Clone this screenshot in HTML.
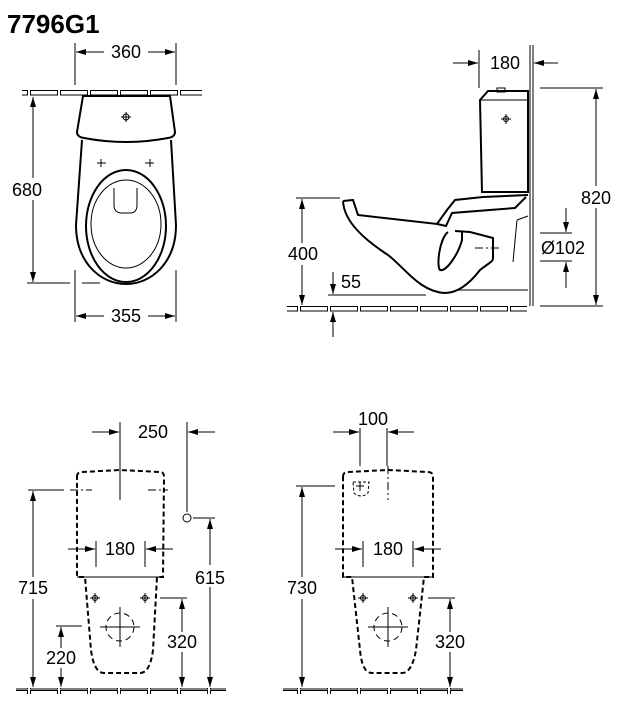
<!DOCTYPE html>
<html><head><meta charset="utf-8"><style>
html,body{margin:0;padding:0;background:#fff;}
svg{display:block;}
text{font-family:"Liberation Sans",Arial,sans-serif;fill:#000;}
.l{stroke:#000;stroke-width:1;fill:none;}
.t{stroke:#000;stroke-width:2;fill:none;}
.d{stroke:#000;stroke-width:2;fill:none;stroke-dasharray:5,3;}
.c{stroke:#000;stroke-width:1;fill:none;stroke-dasharray:8,3,2,3;}
.n{font-size:18px;}
</style></head><body>
<svg width="619" height="701" viewBox="0 0 619 701" xmlns="http://www.w3.org/2000/svg">
<defs>
<marker id="a" viewBox="0 0 10 6" refX="10" refY="3" markerWidth="10" markerHeight="6" orient="auto-start-reverse" markerUnits="userSpaceOnUse"><path d="M0,0 L10,3 L0,6 z" fill="#000"/></marker>
<pattern id="fl" width="30" height="6" patternUnits="userSpaceOnUse"><rect x="0.5" y="0.5" width="27" height="4.5" fill="#fff" stroke="#000" stroke-width="1"/></pattern>
</defs>
<text x="7" y="33" style="font-size:26px;font-weight:bold">7796G1</text>

<line class="l" x1="75" y1="43" x2="75" y2="85"/><line class="l" x1="176" y1="43" x2="176" y2="85"/>
<line class="l" x1="76" y1="52" x2="104" y2="52" marker-start="url(#a)"/>
<line class="l" x1="148" y1="52" x2="175" y2="52" marker-end="url(#a)"/>
<text class="n" x="126" y="58" text-anchor="middle">360</text>
<rect x="22" y="90" width="180" height="6" fill="url(#fl)"/>
<path class="t" d="M83,96 L170,96 L175,132 Q175,137 168,138 Q126,146 84,138 Q77,137 77,132 Z"/>
<path class="t" d="M82,140 L76,225 C76,262 100,284 126,284 C152,284 176,262 176,225 L171,140"/>
<ellipse class="t" cx="126" cy="226" rx="40" ry="56"/>
<ellipse class="l" cx="126" cy="224" rx="35" ry="44"/>
<path class="l" d="M114,188 L114,205 Q114,213 122,213 L130,213 Q137,213 137,205 L137,188"/>
<g class="l"><circle cx="126" cy="117" r="3"/><line x1="121" y1="117" x2="131" y2="117"/><line x1="126" y1="112" x2="126" y2="122"/>
<line x1="97" y1="163" x2="106" y2="163"/><line x1="101" y1="159" x2="101" y2="167"/>
<line x1="145" y1="163" x2="154" y2="163"/><line x1="150" y1="159" x2="150" y2="167"/></g>
<line class="l" x1="33" y1="97" x2="33" y2="282" marker-start="url(#a)" marker-end="url(#a)"/>
<rect x="6" y="178" width="44" height="22" fill="#fff"/>
<text class="n" x="27" y="196" text-anchor="middle">680</text>
<line class="l" x1="27" y1="283" x2="70" y2="283"/><line class="l" x1="82" y1="283" x2="100" y2="283"/>
<line class="l" x1="75" y1="270" x2="75" y2="322"/><line class="l" x1="176" y1="270" x2="176" y2="322"/>
<line class="l" x1="76" y1="316" x2="104" y2="316" marker-start="url(#a)"/>
<line class="l" x1="148" y1="316" x2="175" y2="316" marker-end="url(#a)"/>
<text class="n" x="126" y="322" text-anchor="middle">355</text>

<line class="l" x1="530" y1="45" x2="530" y2="306"/><line class="l" x1="533" y1="45" x2="533" y2="306"/>
<line class="l" x1="479" y1="50" x2="479" y2="88"/>
<line class="l" x1="453" y1="63" x2="478" y2="63" marker-end="url(#a)"/>
<line class="l" x1="558" y1="63" x2="534" y2="63" marker-end="url(#a)"/>
<text class="n" x="505" y="69" text-anchor="middle">180</text>
<path class="t" d="M480,100 L488,91 L528,91 L528,192 L482,192 Z"/>
<line class="l" x1="480" y1="100" x2="528" y2="100"/>
<rect x="497" y="88" width="8" height="4" class="l"/>
<g class="l"><circle cx="506" cy="119" r="2.5"/><line x1="501" y1="119" x2="511" y2="119"/><line x1="506" y1="114" x2="506" y2="124"/></g>
<path class="t" d="M343,201 L353,200 L358,215 L437,224 L447,210 L455,200 L483,197 L528,195"/>
<path class="t" d="M343,201 C344,222 365,240 388,255 C405,268 420,292 445,293 C458,293 470,283 480,270 C490,262 493,262 493,258 L493,238 L470,232 L455,231"/>
<path class="t" d="M437,224 L446,226 L452,213 L515,208 L526,197"/>
<path class="t" d="M448,232 C440,238 436,265 440,270 C446,272 458,255 462,240 L462,232"/>
<line class="l" x1="458" y1="290" x2="528" y2="290"/>
<line class="l" x1="517" y1="220" x2="513" y2="262"/><line class="l" x1="517" y1="220" x2="528" y2="216"/>
<line class="c" x1="475" y1="248" x2="500" y2="248"/>
<line class="l" x1="540" y1="88" x2="603" y2="88"/><line class="l" x1="540" y1="306" x2="603" y2="306"/>
<line class="l" x1="596" y1="89" x2="596" y2="305" marker-start="url(#a)" marker-end="url(#a)"/>
<rect x="574" y="186" width="44" height="22" fill="#fff"/>
<text class="n" x="596" y="204" text-anchor="middle">820</text>
<line class="l" x1="540" y1="233" x2="572" y2="233"/><line class="l" x1="540" y1="261" x2="572" y2="261"/>
<line class="l" x1="566" y1="208" x2="566" y2="232" marker-end="url(#a)"/>
<line class="l" x1="566" y1="288" x2="566" y2="262" marker-end="url(#a)"/>
<text class="n" x="541" y="254">Ø102</text>
<line class="l" x1="296" y1="198" x2="340" y2="198"/>
<line class="l" x1="302" y1="199" x2="302" y2="305" marker-start="url(#a)" marker-end="url(#a)"/>
<rect x="282" y="243" width="42" height="22" fill="#fff"/>
<text class="n" x="303" y="260" text-anchor="middle">400</text>
<line class="l" x1="333" y1="272" x2="333" y2="294" marker-end="url(#a)"/>
<line class="l" x1="328" y1="295" x2="426" y2="295"/>
<text class="n" x="341" y="288">55</text>
<rect x="287" y="306" width="240" height="6" fill="url(#fl)"/>
<line class="l" x1="333" y1="337" x2="333" y2="312" marker-end="url(#a)"/>

<line class="l" x1="92" y1="432" x2="119" y2="432" marker-end="url(#a)"/>
<line class="l" x1="215" y1="432" x2="188" y2="432" marker-end="url(#a)"/>
<line class="l" x1="120" y1="422" x2="120" y2="500"/><line class="l" x1="187" y1="422" x2="187" y2="512"/>
<text class="n" x="153" y="438" text-anchor="middle">250</text>
<path class="d" d="M77,477 Q77,472 82,472 L120,470 L160,472 Q164,472 164,477 L163,577 L157,577 L153,650 Q150,673 140,673 L104,673 Q94,673 91,650 L85,577 L77,577 Z"/>
<line class="l" x1="77" y1="577" x2="164" y2="577"/>
<line class="l" x1="28" y1="490" x2="64" y2="490"/>
<line class="c" x1="70" y1="490" x2="92" y2="490"/><line class="c" x1="148" y1="490" x2="168" y2="490"/>
<line class="l" x1="33" y1="491" x2="33" y2="687" marker-start="url(#a)" marker-end="url(#a)"/>
<rect x="12" y="577" width="44" height="22" fill="#fff"/>
<text class="n" x="33" y="594" text-anchor="middle">715</text>
<circle class="l" cx="187" cy="518" r="4"/>
<line class="l" x1="193" y1="518" x2="215" y2="518"/>
<line class="l" x1="210" y1="519" x2="210" y2="687" marker-start="url(#a)" marker-end="url(#a)"/>
<rect x="190" y="565" width="42" height="22" fill="#fff"/>
<text class="n" x="210" y="584" text-anchor="middle">615</text>
<line class="l" x1="96" y1="541" x2="96" y2="567"/><line class="l" x1="145" y1="541" x2="145" y2="567"/>
<line class="l" x1="68" y1="549" x2="95" y2="549" marker-end="url(#a)"/>
<line class="l" x1="173" y1="549" x2="146" y2="549" marker-end="url(#a)"/>
<text class="n" x="120" y="555" text-anchor="middle">180</text>
<g class="l"><circle cx="95" cy="598" r="2.5"/><line x1="90" y1="598" x2="100" y2="598"/><line x1="95" y1="593" x2="95" y2="603"/>
<circle cx="145" cy="598" r="2.5"/><line x1="140" y1="598" x2="150" y2="598"/><line x1="145" y1="593" x2="145" y2="603"/>
<circle cx="120" cy="627" r="14" stroke-dasharray="6,4"/><line x1="100" y1="627" x2="140" y2="627"/><line x1="120" y1="607" x2="120" y2="647"/></g>
<line class="l" x1="160" y1="598" x2="187" y2="598"/>
<line class="l" x1="182" y1="599" x2="182" y2="687" marker-start="url(#a)" marker-end="url(#a)"/>
<rect x="162" y="632" width="40" height="20" fill="#fff"/>
<text class="n" x="182" y="648" text-anchor="middle">320</text>
<line class="l" x1="56" y1="626" x2="82" y2="626"/>
<line class="l" x1="61" y1="627" x2="61" y2="687" marker-start="url(#a)" marker-end="url(#a)"/>
<rect x="42" y="648" width="40" height="20" fill="#fff"/>
<text class="n" x="61" y="664" text-anchor="middle">220</text>
<rect x="16" y="688" width="210" height="6" fill="url(#fl)"/>

<line class="l" x1="360" y1="428" x2="360" y2="466"/><line class="l" x1="387" y1="428" x2="387" y2="466"/>
<line class="l" x1="333" y1="432" x2="359" y2="432" marker-end="url(#a)"/>
<line class="l" x1="414" y1="432" x2="388" y2="432" marker-end="url(#a)"/>
<text class="n" x="373" y="425" text-anchor="middle">100</text>
<path class="d" d="M343,477 Q343,472 348,472 L388,470 L428,472 Q433,472 433,477 L433,577 L424,577 L416,650 Q412,673 402,673 L372,673 Q362,673 360,650 L352,577 L343,577 Z"/>
<line class="l" x1="343" y1="577" x2="433" y2="577"/>
<path class="l" stroke-dasharray="3,2" d="M353,482 L369,482 L368,493 Q361,499 354,493 Z"/>
<g class="l"><line x1="356" y1="486" x2="364" y2="486"/><line x1="360" y1="482" x2="360" y2="491"/></g>
<line class="c" x1="388" y1="466" x2="388" y2="500"/>
<line class="l" x1="296" y1="486" x2="335" y2="486"/>
<line class="l" x1="302" y1="487" x2="302" y2="687" marker-start="url(#a)" marker-end="url(#a)"/>
<rect x="281" y="577" width="44" height="22" fill="#fff"/>
<text class="n" x="302" y="594" text-anchor="middle">730</text>
<line class="l" x1="363" y1="541" x2="363" y2="567"/><line class="l" x1="413" y1="541" x2="413" y2="567"/>
<line class="l" x1="335" y1="549" x2="362" y2="549" marker-end="url(#a)"/>
<line class="l" x1="441" y1="549" x2="414" y2="549" marker-end="url(#a)"/>
<text class="n" x="388" y="555" text-anchor="middle">180</text>
<g class="l"><circle cx="363" cy="598" r="2.5"/><line x1="358" y1="598" x2="368" y2="598"/><line x1="363" y1="593" x2="363" y2="603"/>
<circle cx="413" cy="598" r="2.5"/><line x1="408" y1="598" x2="418" y2="598"/><line x1="413" y1="593" x2="413" y2="603"/>
<circle cx="388" cy="627" r="14" stroke-dasharray="6,4"/><line x1="368" y1="627" x2="408" y2="627"/><line x1="388" y1="607" x2="388" y2="647"/></g>
<line class="l" x1="428" y1="598" x2="455" y2="598"/>
<line class="l" x1="450" y1="599" x2="450" y2="687" marker-start="url(#a)" marker-end="url(#a)"/>
<rect x="430" y="632" width="40" height="20" fill="#fff"/>
<text class="n" x="450" y="648" text-anchor="middle">320</text>
<rect x="283" y="688" width="180" height="6" fill="url(#fl)"/>
</svg>
</body></html>
